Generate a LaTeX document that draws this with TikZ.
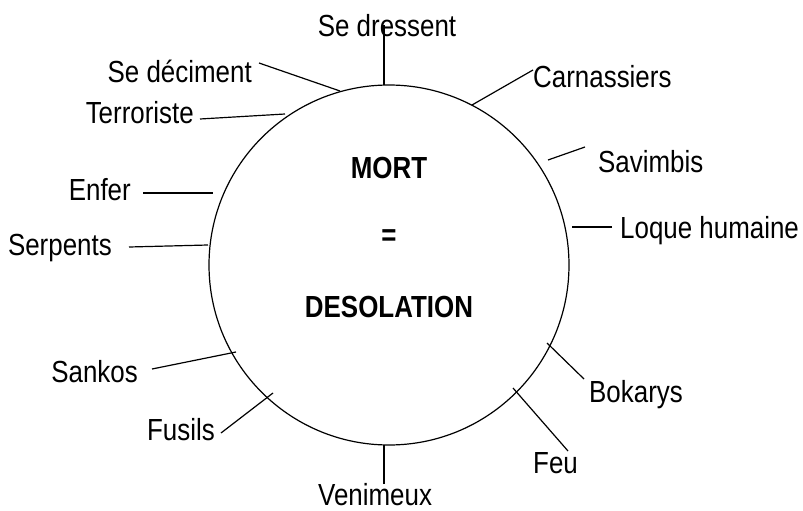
\documentclass[tikz,border=0pt]{standalone}
\usepackage{fontspec}
\usepackage{graphicx}
\setmainfont{Liberation Sans}
\newcommand{\nt}[1]{\scalebox{0.85}[1]{#1}}
\begin{document}
\begin{tikzpicture}[x=1pt,y=-1pt,
  lbl/.style={inner sep=0pt,font=\fontsize{30.5}{34}\selectfont},
  mid/.style={inner sep=0pt,font=\fontsize{30.5}{34}\selectfont\bfseries,anchor=base},
  conn/.style={line width=1.2pt},
]
\useasboundingbox (0,0) rectangle (803,511);
\node[draw,circle,line width=1.2pt,minimum size=360pt,inner sep=0pt] (c) at (389,265) {};
\node[mid] (mort) at (389,178) {\nt{MORT}};
\node[mid] (eq) at (389,245) {\nt{=}};
\node[mid] (deso) at (389,317) {\nt{DESOLATION}};

\node[lbl,anchor=base] (tdress) at (387,37) {\nt{Se dressent}};
\node[lbl,anchor=base west] (tcarn) at (533,87) {\nt{Carnassiers}};
\node[lbl,anchor=base east] (tdeci) at (252,82) {\nt{Se déciment}};
\node[lbl,anchor=base east] (tterr) at (194,123) {\nt{Terroriste}};
\node[lbl,anchor=base east] (tenf) at (131,200) {\nt{Enfer}};
\node[lbl,anchor=base east] (tserp) at (112,255) {\nt{Serpents}};
\node[lbl,anchor=base west] (tsav) at (598,172) {\nt{Savimbis}};
\node[lbl,anchor=base west] (tloq) at (620,238) {\nt{Loque humaine}};
\node[lbl,anchor=base east] (tsank) at (138,382) {\nt{Sankos}};
\node[lbl,anchor=base east] (tfus) at (215,440) {\nt{Fusils}};
\node[lbl,anchor=base west] (tven) at (318,505) {\nt{Venimeux}};
\node[lbl,anchor=base west] (tbok) at (589,402) {\nt{Bokarys}};
\node[lbl,anchor=base west] (tfeu) at (533,473) {\nt{Feu}};

\coordinate (a1) at (384,25);  \coordinate (b1) at (384,85);
\coordinate (a2) at (533,70);  \coordinate (b2) at (472,105);
\coordinate (a3) at (259,63);  \coordinate (b3) at (340,91);
\coordinate (a4) at (200,119); \coordinate (b4) at (285,114);
\coordinate (a5) at (143,193); \coordinate (b5) at (213,193);
\coordinate (a6) at (129,247); \coordinate (b6) at (208,245);
\coordinate (a7) at (585,147); \coordinate (b7) at (548,160);
\coordinate (a8) at (612,227); \coordinate (b8) at (572,227);
\coordinate (a9) at (152,369); \coordinate (b9) at (236,352);
\coordinate (a10) at (221,433); \coordinate (b10) at (273,393);
\coordinate (a11) at (384,484); \coordinate (b11) at (384,445);
\coordinate (a12) at (584,379); \coordinate (b12) at (547,343);
\coordinate (a13) at (568,451); \coordinate (b13) at (513,388);

\foreach \i in {1,...,13} { \draw[conn] (a\i) -- (b\i); }
\end{tikzpicture}
\end{document}
